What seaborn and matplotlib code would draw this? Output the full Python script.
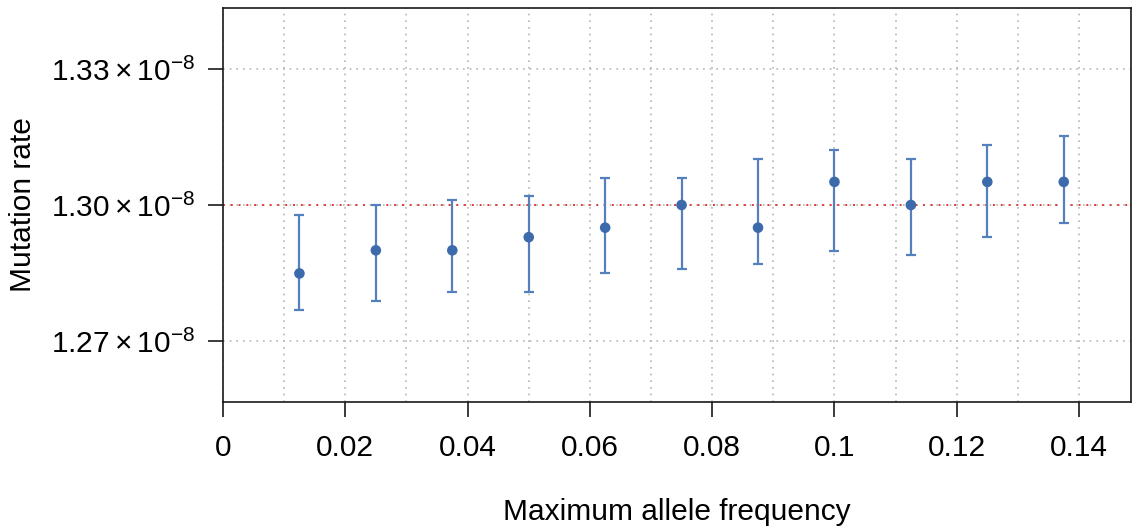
import matplotlib
matplotlib.use("Agg")
import matplotlib.pyplot as plt
import numpy as np
import pandas as pd
import seaborn as sns

# values in units of 1e-8
max_freq = [0.0125, 0.025, 0.0375, 0.05, 0.0625, 0.075, 0.0875, 0.1, 0.1125, 0.125, 0.1375]
rate_mean = [1.2849, 1.2900, 1.2900, 1.2929, 1.2950, 1.3000, 1.2950, 1.3051, 1.3000, 1.3051, 1.3051]
rate_low = [1.2768, 1.2788, 1.2809, 1.2809, 1.2849, 1.2859, 1.2869, 1.2899, 1.2889, 1.2929, 1.2960]
rate_high = [1.2979, 1.3000, 1.3010, 1.3020, 1.3060, 1.3060, 1.3101, 1.3121, 1.3101, 1.3132, 1.3152]
true_rate = 1.30

x_ticks = [0, 0.02, 0.04, 0.06, 0.08, 0.1, 0.12, 0.14]
x_ticklabels = ["0", "0.02", "0.04", "0.06", "0.08", "0.1", "0.12", "0.14"]
y_ticks = [1.27, 1.30, 1.33]
y_ticklabels = [r"$1.27\times10^{-8}$", r"$1.30\times10^{-8}$", r"$1.33\times10^{-8}$"]

sns.set_theme(style="ticks")
plt.rcParams["font.family"] = ["Liberation Sans", "DejaVu Sans"]
plt.rcParams["mathtext.fontset"] = "custom"
plt.rcParams["mathtext.rm"] = "Liberation Sans"
plt.rcParams["mathtext.it"] = "Liberation Sans:italic"
plt.rcParams["mathtext.bf"] = "Liberation Sans:bold"
plt.rcParams["mathtext.default"] = "regular"
plt.rcParams["text.color"] = "black"
plt.rcParams["axes.labelcolor"] = "black"

df = pd.DataFrame({"freq": max_freq, "rate": rate_mean, "low": rate_low, "high": rate_high})

fig = plt.figure(figsize=(11.32, 5.29), dpi=100)
ax = fig.add_axes([223 / 1132, 1 - 402 / 529, 908 / 1132, 394 / 529])

# grid
ax.set_xticks(np.arange(0.01, 0.145, 0.02), minor=True)
ax.grid(axis="x", which="both", color="#b5b5b5", linestyle=(0, (1, 3)), linewidth=1.2)
ax.grid(axis="y", which="major", color="#b5b5b5", linestyle=(0, (1, 3)), linewidth=1.2)
ax.set_axisbelow(True)

ax.axhline(true_rate, color="#e3393a", linestyle=(0, (1, 3)), linewidth=1.4, zorder=1.5)

ax.errorbar(df["freq"], df["rate"],
            yerr=[df["rate"] - df["low"], df["high"] - df["rate"]],
            fmt="none", ecolor="#5580be", elinewidth=1.6, capsize=3.6, capthick=1.6, zorder=2)
sns.scatterplot(data=df, x="freq", y="rate", color="#3c6aab", s=58, edgecolor="none",
                ax=ax, zorder=3, legend=False)

ax.set_xlim(0, 0.1485)
ax.set_ylim(1.25654, 1.34346)
ax.set_xticks(x_ticks)
ax.set_xticklabels(x_ticklabels)
ax.set_yticks(y_ticks)
ax.set_yticklabels(y_ticklabels)

ax.tick_params(which="major", direction="out", length=11, width=1.2, colors="#1a1a1a",
               labelsize=21.5, labelcolor="black")
ax.tick_params(axis="x", which="major", pad=12)
ax.tick_params(axis="y", which="major", pad=9)
ax.tick_params(which="minor", length=0)

for s in ax.spines.values():
    s.set_linewidth(1.2)
    s.set_color("#1a1a1a")

ax.set_xlabel("Maximum allele frequency", fontsize=21.5)
ax.set_ylabel("Mutation rate", fontsize=21.5)
ax.xaxis.set_label_coords(0.5, -0.243)
ax.yaxis.set_label_coords(-0.205, 0.5)

fig.savefig("out.png", dpi=100)
